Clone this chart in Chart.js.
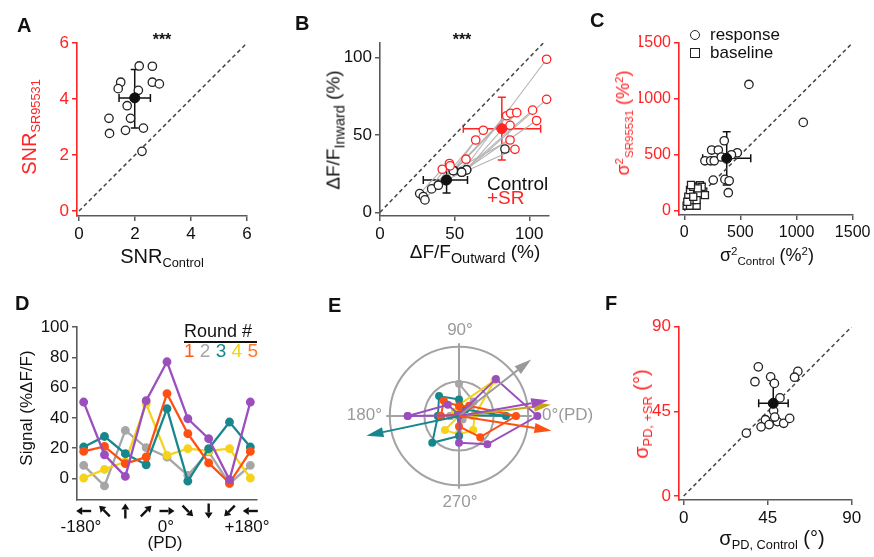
<!DOCTYPE html>
<html>
<head>
<meta charset="utf-8">
<script src="https://cdn.jsdelivr.net/npm/chart.js@4.4.1/dist/chart.umd.min.js"></script>
<style>
body{margin:0;background:#fff;width:874px;height:557px;position:relative;overflow:hidden;font-family:"Liberation Sans",Arial,Helvetica,sans-serif;color:#111;}
canvas{position:absolute;}
.t{position:absolute;white-space:nowrap;line-height:1;}
sub,sup{line-height:0;font-size:0.64em;}
sub{vertical-align:-0.32em;}
sup{vertical-align:0.55em;}
.big sub{font-size:0.76em;}
.mk{position:absolute;border:1.5px solid #222;background:#fff;box-sizing:border-box;}
</style>
</head>
<body>
<canvas id="cA" width="290" height="280" style="left:0;top:0"></canvas>
<canvas id="cB" width="290" height="280" style="left:290px;top:0"></canvas>
<canvas id="cC" width="294" height="280" style="left:580px;top:0"></canvas>
<canvas id="cD" width="290" height="277" style="left:0;top:280px"></canvas>
<canvas id="cE" width="240" height="240" style="left:339px;top:296px"></canvas>
<canvas id="cF" width="294" height="277" style="left:580px;top:280px"></canvas>
<script>
// ---------- data ----------
// A: SNR
const snrCtrl = [2.15, 2.62, 1.49, 1.40, 2.12, 2.62, 2.87, 1.72, 1.84, 1.07, 1.09, 1.66, 2.30, 2.25];
const snrSR   = [5.18, 5.17, 4.60, 4.37, 4.31, 4.60, 4.54, 3.76, 3.31, 3.31, 2.77, 2.88, 2.96, 2.13];
const snrMean = [1.99, 4.04];
const snrErrX = [1.43, 2.55];
const snrErrY = [2.96, 5.05];
const snrTicks = [0, 2, 4, 6];

// B: dF/F outward vs inward, control -> +SR pairs
const outCtrl = [26.6, 29.0, 30.1, 34.6, 39.1, 44.0, 49.1, 54.7, 58.0, 55.0, 49.5, 58.0, 54.7, 44.5, 49.1, 83.7];
const inCtrl  = [12.1, 10.1,  8.0, 15.1, 17.5, 20.5, 26.9, 25.9, 27.4, 26.0, 27.0, 27.4, 25.9, 21.0, 26.9, 40.9];
const outSR   = [41.7, 46.5, 47.0, 57.6, 64.1, 69.2, 84.8, 111.6, 111.6, 102.2, 87.5, 91.6, 104.9, 90.4, 87.1, 87.1];
const inSR    = [27.8, 31.5, 30.0, 34.3, 46.7, 53.0, 62.4, 98.9, 73.0, 66.0, 64.0, 64.4, 59.3, 40.7, 46.7, 56.2];
const meanCtrl = [44.6, 20.9], errCtrlX = [29, 58.6], errCtrlY = [12.5, 29];
const meanSR = [81.6, 54.0], errSRX = [55.8, 107.6], errSRY = [33.8, 74.4];
const dffTicks = [0, 50, 100];

// C: variance
const respCtrl = [576, 1060, 356, 244, 303, 472, 184, 235, 267, 258, 362, 400, 392, 330, 420];
const respSR   = [1128, 789, 625, 542, 542, 518, 446, 446, 446, 274, 280, 268, 161, 480, 500];
const baseCtrl = [21, 51, 110, 65, 95, 65, 95, 140, 169, 125, 36, 51, 80, 155, 110, 184, 27, 80, 120, 60];
const baseSR   = [45, 45, 45, 95, 125, 170, 214, 229, 170, 155, 125, 185, 214, 214, 95, 140, 80, 125, 200, 230];
const varMean = [378, 468], varErrX = [164, 592], varErrY = [230, 705];
const varTicks = [0, 500, 1000, 1500];

// D/E: tuning curves, one per round
const dirDeg = [-180, -135, -90, -45, 0, 45, 90, 135, 180];
const sigPurple = [50.4, 15.6, 1.3, 51.3, 77.0, 39.4, 26.2, -0.9, 50.4];
const sigOrange = [17.8, 21.1, 9.7, 14.1, 56.0, 29.5, 10.2, -3.1, 17.8];
const sigTeal   = [20.7, 27.7, 16.3, 9.0, 46.1, -1.8, 19.6, 37.2, 20.7];
const sigYellow = [0.2, 5.9, 11.0, 49.3, 15.2, 19.6, 18.1, 19.6, 0.2];
const sigGray   = [8.6, -5.0, 31.7, 20.3, 14.1, 2.0, 17.5, -3.5, 8.6];
const sigTicks = [0, 20, 40, 60, 80, 100];
const ringR = [34, 68];
const vecAngle = [38, 7, 10, -9, 192];
const vecLen = [90, 91, 89, 92, 93];

// F: sigma PD
const pdCtrl = [40.0, 38.2, 46.6, 48.6, 61.2, 59.4, 51.6, 48.2, 43.8, 41.5, 45.8, 50.2, 53.6, 56.8, 33.6, 48.8];
const pdSR   = [68.7, 60.8, 63.4, 59.9, 66.3, 63.2, 52.2, 45.3, 40.6, 36.8, 38.0, 39.6, 38.7, 41.3, 33.5, 42.0];
const pdMean = [48.0, 49.3], pdErrX = [40.2, 56.0], pdErrY = [38.7, 59.9];
const pdTicks = [0, 45, 90];

// ---------- style ----------
const FONT = '"Liberation Sans", Arial, Helvetica, sans-serif';
const RED = '#ff2323';
const AX = '#5a5a5a';
const PURPLE = '#9b4fbd', ORANGE = '#ff5014', TEAL = '#17878d', YELLOW = '#f5d31a', GRAY = '#a6a6a6';

function pts(xs, ys) { return xs.map((x, i) => ({ x: x, y: ys[i] })); }

function fixSize(isY) {
  return function (s) {
    if (isY) { s.width = 40; s.paddingTop = 0; s.paddingBottom = 0; }
    else { s.height = 30; s.paddingLeft = 0; s.paddingRight = 0; }
  };
}

function linAxis(isY, min, max, tickVals, line, text, size) {
  return {
    type: 'linear', min: min, max: max, bounds: 'data',
    afterBuildTicks: s => { s.ticks = tickVals.map(v => ({ value: v })); },
    afterFit: fixSize(isY),
    grid: { drawOnChartArea: false, drawTicks: tickVals.length > 0, tickLength: 5, color: line, lineWidth: 1.5 },
    border: { display: true, color: line, width: 1.6 },
    ticks: { display: tickVals.length > 0, color: text, padding: 3, autoSkip: false, maxRotation: 0,
             font: { family: FONT, size: size || 17 }, callback: v => String(v) }
  };
}

function openPts(data, color, style, r) {
  return { data: data, pointRadius: r || 4.2, pointBorderWidth: 1.3, pointStyle: style || 'circle',
           pointBackgroundColor: '#fff', pointBorderColor: color, clip: false };
}
function meanPt(p, color, ex, ey) {
  return { data: [{ x: p[0], y: p[1] }], pointRadius: 5, pointBackgroundColor: color, pointBorderColor: color,
           borderColor: color, errX: ex, errY: ey, clip: false };
}
function diag(maxV) {
  return { data: [{ x: 0, y: 0 }, { x: maxV, y: maxV }], showLine: true, pointRadius: 0,
           borderColor: '#444', borderWidth: 1.5, borderDash: [4, 3] };
}

// error bars, drawn under the points
const errorBars = {
  id: 'errorBars',
  beforeDatasetsDraw(chart) {
    const ctx = chart.ctx, xs = chart.scales.x, ys = chart.scales.y;
    chart.data.datasets.forEach(ds => {
      if (!ds.errX) return;
      const px = xs.getPixelForValue(ds.data[0].x), py = ys.getPixelForValue(ds.data[0].y);
      const x0 = xs.getPixelForValue(ds.errX[0]), x1 = xs.getPixelForValue(ds.errX[1]);
      const y0 = ys.getPixelForValue(ds.errY[0]), y1 = ys.getPixelForValue(ds.errY[1]);
      const c = 4;
      ctx.save();
      ctx.strokeStyle = ds.borderColor;
      ctx.lineWidth = 1.5;
      ctx.beginPath();
      ctx.moveTo(x0, py); ctx.lineTo(x1, py);
      ctx.moveTo(x0, py - c); ctx.lineTo(x0, py + c);
      ctx.moveTo(x1, py - c); ctx.lineTo(x1, py + c);
      ctx.moveTo(px, y0); ctx.lineTo(px, y1);
      ctx.moveTo(px - c, y0); ctx.lineTo(px + c, y0);
      ctx.moveTo(px - c, y1); ctx.lineTo(px + c, y1);
      ctx.stroke();
      ctx.restore();
    });
  }
};

function drawArrow(ctx, x0, y0, x1, y1, color, lw, hl, hw) {
  const a = Math.atan2(y1 - y0, x1 - x0);
  const bx = x1 - hl * Math.cos(a), by = y1 - hl * Math.sin(a);
  ctx.save();
  ctx.strokeStyle = color; ctx.fillStyle = color; ctx.lineWidth = lw;
  ctx.beginPath(); ctx.moveTo(x0, y0); ctx.lineTo(bx, by); ctx.stroke();
  ctx.beginPath();
  ctx.moveTo(x1, y1);
  ctx.lineTo(bx + hw / 2 * Math.sin(a), by - hw / 2 * Math.cos(a));
  ctx.lineTo(bx - hw / 2 * Math.sin(a), by + hw / 2 * Math.cos(a));
  ctx.closePath(); ctx.fill();
  ctx.restore();
}

function baseOpts(pad, x, y) {
  return {
    responsive: false, animation: false, events: [],
    layout: { padding: pad },
    plugins: { legend: { display: false }, tooltip: { enabled: false } },
    scales: { x: x, y: y }
  };
}

// =======================
// A
// =======================
new Chart(document.getElementById('cA'), {
  type: 'scatter',
  data: { datasets: [
    meanPt(snrMean, '#111', snrErrX, snrErrY),
    openPts(pts(snrCtrl, snrSR), '#222'),
    diag(6)
  ] },
  options: baseOpts({ left: 37, top: 43, right: 43, bottom: 34 },
    linAxis(false, -0.0714, 6, snrTicks, AX, '#111'),
    linAxis(true, -0.1786, 6, snrTicks, RED, RED)),
  plugins: [errorBars]
});

// =======================
// B
// =======================
const pairLines = outCtrl.map((x, i) => ({
  data: [{ x: x, y: inCtrl[i] }, { x: outSR[i], y: inSR[i] }], showLine: true, pointRadius: 0,
  borderColor: '#b3b3b3', borderWidth: 1.1, clip: false
}));
new Chart(document.getElementById('cB'), {
  type: 'scatter',
  data: { datasets: [
    meanPt(meanSR, RED, errSRX, errSRY),
    meanPt(meanCtrl, '#111', errCtrlX, errCtrlY),
    openPts(pts(outSR, inSR), RED),
    openPts(pts(outCtrl, inCtrl), '#222'),
    ...pairLines,
    diag(110)
  ] },
  options: baseOpts({ left: 50, top: 43, right: 31, bottom: 34 },
    linAxis(false, 0, 113.2, dffTicks, AX, '#111'),
    linAxis(true, -2.4, 109.4, dffTicks, AX, '#111')),
  plugins: [errorBars]
});

// =======================
// C
// =======================
new Chart(document.getElementById('cC'), {
  type: 'scatter',
  data: { datasets: [
    meanPt(varMean, '#111', varErrX, varErrY),
    openPts(pts(respCtrl, respSR), '#222'),
    openPts(pts(baseCtrl, baseSR), '#222', 'rect', 5),
    diag(1500)
  ] },
  options: baseOpts({ left: 59, top: 43, right: 21, bottom: 35 },
    linAxis(false, -47, 1503, varTicks, AX, '#111', 16),
    linAxis(true, -38, 1498, varTicks, RED, RED, 16)),
  plugins: [errorBars]
});

// =======================
// D
// =======================
const rounds = [
  { v: sigPurple, c: PURPLE }, { v: sigOrange, c: ORANGE }, { v: sigTeal, c: TEAL },
  { v: sigYellow, c: YELLOW }, { v: sigGray, c: GRAY }
];
const dirArrows = {
  id: 'dirArrows',
  afterDraw(chart) {
    const xs = chart.scales.x, y = chart.chartArea.bottom + 11;
    dirDeg.forEach(d => {
      const a = -d * Math.PI / 180, cx = xs.getPixelForValue(d), h = 7.5;
      drawArrow(chart.ctx, cx - h * Math.cos(a), y + h * Math.sin(a), cx + h * Math.cos(a), y - h * Math.sin(a), '#111', 2.4, 6, 8);
    });
  }
};
new Chart(document.getElementById('cD'), {
  type: 'scatter',
  data: { datasets: rounds.map(r => ({
    data: pts(dirDeg, r.v), showLine: true, borderColor: r.c, borderWidth: 2.3,
    pointRadius: 3.3, pointBackgroundColor: r.c, pointBorderColor: r.c, clip: false
  })) },
  options: baseOpts({ left: 37, top: 47, right: 33, bottom: 27 },
    linAxis(false, -194.4, 194.4, [], AX, '#111'),
    linAxis(true, -14.3, 100, sigTicks, AX, '#111')),
  plugins: [dirArrows]
});

// =======================
// E (polar view of the same curves)
// =======================
const vecColor = ['#9a9a9a', '#c9a21a', PURPLE, ORANGE, TEAL];
const polarGrid = {
  id: 'polarGrid',
  beforeDatasetsDraw(chart) {
    const ctx = chart.ctx, xs = chart.scales.x, ys = chart.scales.y;
    const cx = xs.getPixelForValue(0), cy = ys.getPixelForValue(0);
    const k = xs.getPixelForValue(1) - cx;
    ctx.save();
    ctx.strokeStyle = '#a3a3a3'; ctx.lineWidth = 2;
    ringR.forEach(r => { ctx.beginPath(); ctx.arc(cx, cy, r * k, 0, Math.PI * 2); ctx.stroke(); });
    const L = (ringR[1] + 3.5) * k;
    ctx.beginPath();
    ctx.moveTo(cx - L, cy); ctx.lineTo(cx + L, cy);
    ctx.moveTo(cx, cy - L); ctx.lineTo(cx, cy + L);
    ctx.stroke();
    ctx.restore();
  },
  afterDatasetsDraw(chart) {
    const xs = chart.scales.x, ys = chart.scales.y;
    const cx = xs.getPixelForValue(0), cy = ys.getPixelForValue(0);
    vecAngle.forEach((ang, i) => {
      const a = ang * Math.PI / 180;
      const tx = xs.getPixelForValue(vecLen[i] * Math.cos(a)), ty = ys.getPixelForValue(vecLen[i] * Math.sin(a));
      drawArrow(chart.ctx, cx, cy, tx, ty, vecColor[i], 2, 17, 10);
    });
  }
};
const toXY = v => v.map((r, i) => {
  const a = -dirDeg[i] * Math.PI / 180;
  return { x: r * Math.cos(a), y: r * Math.sin(a) };
});
new Chart(document.getElementById('cE'), {
  type: 'scatter',
  data: { datasets: rounds.map(r => ({
    data: toXY(r.v), showLine: true, borderColor: r.c, borderWidth: 2,
    pointRadius: 3, pointBackgroundColor: r.c, pointBorderColor: r.c, clip: false
  })) },
  options: baseOpts(0,
    { type: 'linear', min: -112, max: 112, display: false },
    { type: 'linear', min: -112, max: 112, display: false }),
  plugins: [polarGrid]
});

// =======================
// F
// =======================
new Chart(document.getElementById('cF'), {
  type: 'scatter',
  data: { datasets: [
    meanPt(pdMean, '#111', pdErrX, pdErrY),
    openPts(pts(pdCtrl, pdSR), '#222'),
    diag(90)
  ] },
  options: baseOpts({ left: 59, top: 47, right: 22, bottom: 27 },
    linAxis(false, -2.5, 90.2, pdTicks, AX, '#111'),
    linAxis(true, -2.1, 89.9, pdTicks, RED, RED)),
  plugins: [errorBars]
});

// =======================
// text
// =======================
function txt(html, x, base, size, opt) {
  opt = opt || {};
  const d = document.createElement('div');
  d.className = 't' + (opt.cls ? ' ' + opt.cls : '');
  d.innerHTML = html;
  d.style.fontSize = size + 'px';
  d.style.color = opt.color || '#111';
  if (opt.bold) d.style.fontWeight = 'bold';
  d.style.top = (base - 0.847 * size) + 'px';
  if (opt.align === 'c') { d.style.left = x + 'px'; d.style.transform = 'translateX(-50%)'; }
  else if (opt.align === 'r') { d.style.right = (874 - x) + 'px'; }
  else d.style.left = x + 'px';
  document.body.appendChild(d);
  return d;
}
function vtxt(html, cx, cy, size, color, cls) {
  const d = document.createElement('div');
  d.className = 't' + (cls ? ' ' + cls : '');
  d.innerHTML = html;
  d.style.fontSize = size + 'px';
  d.style.color = color || '#111';
  d.style.left = cx + 'px';
  d.style.top = cy + 'px';
  d.style.transform = 'translate(-50%,-50%) rotate(-90deg)';
  document.body.appendChild(d);
}

// panel letters
txt('A', 17, 32, 20, { bold: true });
txt('B', 295, 30, 20, { bold: true });
txt('C', 590, 27, 20, { bold: true });
txt('D', 15, 310, 20, { bold: true });
txt('E', 328, 312, 20, { bold: true });
txt('F', 605, 310, 20, { bold: true });

// significance
txt('***', 162, 46, 16, { bold: true, align: 'c' });
txt('***', 462, 46, 16, { bold: true, align: 'c' });

// axis titles
txt('SNR<sub>Control</sub>', 162, 263, 20, { align: 'c' });
vtxt('SNR<sub>SR95531</sub>', 29, 127, 20, RED);
txt('ΔF/F<sub>Outward</sub> (%)', 475, 258, 19, { align: 'c', cls: 'big' });
vtxt('ΔF/F<sub>Inward</sub> (%)', 333, 130, 19, '#111', 'big');
txt('σ<sup>2</sup><sub>Control</sub> (%<sup>2</sup>)', 767, 261, 18, { align: 'c' });
vtxt('σ<sup>2</sup><sub>SR95531</sub> (%<sup>2</sup>)', 623, 123, 18, RED);
vtxt('Signal (%ΔF/F)', 26, 408, 17);
txt('σ<sub>PD, Control</sub> (°)', 772, 545, 20, { align: 'c' });
vtxt('σ<sub>PD, +SR</sub> (°)', 641, 414, 20, RED);

// B legend
txt('Control', 487, 190.5, 19);
txt('+SR', 487, 204.5, 19, { color: RED });

// C legend
const m1 = document.createElement('div'); m1.className = 'mk';
Object.assign(m1.style, { left: '690px', top: '30px', width: '10px', height: '10px', borderRadius: '50%' });
document.body.appendChild(m1);
const m2 = document.createElement('div'); m2.className = 'mk';
Object.assign(m2.style, { left: '690px', top: '48px', width: '10px', height: '10px' });
document.body.appendChild(m2);
txt('response', 710, 40, 17);
txt('baseline', 710, 58, 17);

// D legend and direction labels
txt('Round #', 184, 337, 18);
const ul = document.createElement('div');
Object.assign(ul.style, { position: 'absolute', left: '184px', top: '341px', width: '73px', height: '2px', background: '#111' });
document.body.appendChild(ul);
txt('<span style="color:#ff5a1a">1</span> <span style="color:#a6a6a6">2</span> <span style="color:#17878d">3</span> ' +
    '<span style="color:#e9d51c">4</span> <span style="color:#ff7a2a">5</span>', 184, 357, 19);
txt('-180°', 81, 532, 17, { align: 'c' });
txt('0°', 166, 532, 17, { align: 'c' });
txt('(PD)', 165, 548, 17, { align: 'c' });
txt('+180°', 247, 532, 17, { align: 'c' });

// E angle labels
txt('90°', 460, 335, 17, { align: 'c', color: '#9a9a9a' });
txt('180°', 382, 420, 17, { align: 'r', color: '#9a9a9a' });
txt('270°', 460, 507, 17, { align: 'c', color: '#9a9a9a' });
txt('0°(PD)', 542, 420, 17, { color: '#9a9a9a' });
</script>
</body>
</html>
